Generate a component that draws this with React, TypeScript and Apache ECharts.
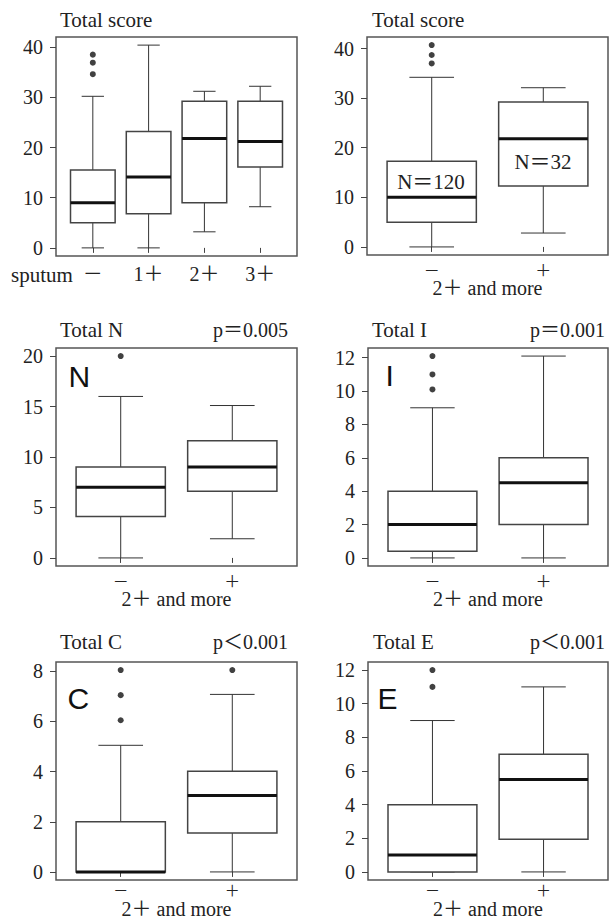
import React, { useEffect, useRef } from 'react';
import * as echarts from 'echarts';

// ---------- data ----------
const sputumCategories = ['－', '1＋', '2＋', '3＋'];
const groupCategories = ['－', '＋'];

// [lower whisker, Q1, median, Q3, upper whisker]
const scoreBySputumStats = [
  [0, 5.0, 9.0, 15.5, 30.2],
  [0, 6.8, 14.1, 23.2, 40.4],
  [3.2, 9.0, 21.8, 29.2, 31.2],
  [8.2, 16.1, 21.2, 29.2, 32.2],
];
const scoreBySputumOutliers = [[34.6, 36.9, 38.5], [], [], []];

const scoreStats = [
  [0, 5.0, 10.0, 17.3, 34.2],
  [2.8, 12.3, 21.8, 29.2, 32.1],
];
const scoreOutliers = [[37.0, 38.7, 40.7], []];

const nStats = [
  [0, 4.1, 7.0, 9.0, 16.0],
  [1.9, 6.6, 9.0, 11.6, 15.1],
];
const nOutliers = [[20], []];

const iStats = [
  [0, 0.4, 2.0, 4.0, 9.0],
  [0, 2.0, 4.5, 6.0, 12.1],
];
const iOutliers = [[10.1, 11.0, 12.1], []];

const cStats = [
  [0, 0, 0, 2.0, 5.05],
  [0, 1.55, 3.05, 4.02, 7.08],
];
const cOutliers = [[6.05, 7.05, 8.05], [8.05]];

const eStats = [
  [0, 0, 1.0, 4.0, 9.0],
  [0, 1.95, 5.5, 7.0, 11.0],
];
const eOutliers = [[11.0, 12.0], []];

const scoreTicks = [0, 10, 20, 30, 40];
const nTicks = [0, 5, 10, 15, 20];
const iTicks = [0, 2, 4, 6, 8, 10, 12];
const cTicks = [0, 2, 4, 6, 8];
const eTicks = [0, 2, 4, 6, 8, 10, 12];

const groupAxisName = '2＋ and more';

// ---------- layout / style ----------
const SERIF = "'Liberation Serif', 'Noto Sans CJK JP', serif";
const SANS = "'Liberation Sans', Arial, sans-serif";
const TEXT = '#222';

const panels = [
  { cats: sputumCategories, stats: scoreBySputumStats, outliers: scoreBySputumOutliers, ticks: scoreTicks,
    grid: { left: 56, top: 37, width: 241, height: 219 }, axisName: '', catSize: 20, catMargin: 8, nameGap: 25 },
  { cats: groupCategories, stats: scoreStats, outliers: scoreOutliers, ticks: scoreTicks,
    grid: { left: 367, top: 37, width: 241, height: 218 }, axisName: groupAxisName, catSize: 16, catMargin: 7, nameGap: 25 },
  { cats: groupCategories, stats: nStats, outliers: nOutliers, ticks: nTicks,
    grid: { left: 56, top: 348, width: 241, height: 218 }, axisName: groupAxisName, catSize: 16, catMargin: 7, nameGap: 25 },
  { cats: groupCategories, stats: iStats, outliers: iOutliers, ticks: iTicks,
    grid: { left: 368, top: 348, width: 240, height: 218 }, axisName: groupAxisName, catSize: 16, catMargin: 7, nameGap: 25 },
  { cats: groupCategories, stats: cStats, outliers: cOutliers, ticks: cTicks,
    grid: { left: 56, top: 662, width: 241, height: 218 }, axisName: groupAxisName, catSize: 15, catMargin: 3, nameGap: 21 },
  { cats: groupCategories, stats: eStats, outliers: eOutliers, ticks: eTicks,
    grid: { left: 368, top: 662, width: 240, height: 218 }, axisName: groupAxisName, catSize: 15, catMargin: 3, nameGap: 21 },
];

function text(str: string, x: number, y: number, align: string, size = 20, family = SERIF, color = TEXT) {
  return {
    type: 'text',
    x,
    y,
    z: 100,
    zlevel: 0,
    silent: true,
    style: {
      text: str,
      font: `${size}px ${family}`,
      fontSize: size,
      fontFamily: family,
      fill: color,
      align,
      verticalAlign: 'middle',
      textAlign: align,
      textVerticalAlign: 'middle',
    },
  };
}

export default function App() {
  const ref = useRef<HTMLDivElement>(null);

  useEffect(() => {
    if (!ref.current) return;
    const chart = echarts.init(ref.current, undefined, { renderer: 'svg' });

    const grids: any[] = [];
    const xAxes: any[] = [];
    const yAxes: any[] = [];
    const series: any[] = [];

    panels.forEach((p, i) => {
      const n = p.cats.length;
      const all: number[] = [];
      p.stats.forEach((s) => all.push(...s));
      p.outliers.forEach((o) => all.push(...o));
      const dMin = Math.min(...all);
      const dMax = Math.max(...all);
      const pad = (dMax - dMin) * 0.04;

      grids.push({
        ...p.grid,
        show: true,
        borderColor: '#555',
        borderWidth: 1.5,
        backgroundColor: 'transparent',
        containLabel: false,
        outerBoundsMode: 'none',
      });

      const catVals = p.cats.map((_, k) => k + 1);
      xAxes.push({
        gridIndex: i,
        type: 'value',
        min: 0.5 - 0.04 * n,
        max: n + 0.5 + 0.04 * n,
        axisLine: { show: false },
        splitLine: { show: false },
        axisTick: { show: true, customValues: catVals, length: 5, lineStyle: { color: '#444', width: 1 } },
        axisLabel: {
          show: true,
          customValues: catVals,
          formatter: (v: number) => p.cats[Math.round(v) - 1] ?? '',
          margin: p.catMargin,
          fontFamily: SERIF,
          fontSize: p.catSize,
          lineHeight: p.catSize,
          color: TEXT,
          hideOverlap: false,
        },
        name: p.axisName,
        nameLocation: 'middle',
        nameGap: p.nameGap,
        nameMoveOverlap: false,
        nameTextStyle: { fontFamily: SERIF, fontSize: 20, lineHeight: 16, color: TEXT },
      });

      yAxes.push({
        gridIndex: i,
        type: 'value',
        min: dMin - pad,
        max: dMax + pad,
        axisLine: { show: false },
        splitLine: { show: false },
        axisTick: { show: true, customValues: p.ticks, length: 6, lineStyle: { color: '#444', width: 1 } },
        axisLabel: {
          show: true,
          customValues: p.ticks,
          formatter: (v: number) => String(v),
          margin: 13,
          fontFamily: SERIF,
          fontSize: 20,
          color: TEXT,
        },
      });

      series.push({
        type: 'custom',
        xAxisIndex: i,
        yAxisIndex: i,
        dimensions: ['x', 'lo', 'q1', 'med', 'q3', 'hi'],
        encode: { x: 'x', y: ['lo', 'q1', 'med', 'q3', 'hi'] },
        data: p.stats.map((s, k) => [k + 1, ...s]),
        renderItem: (params: any, api: any) => {
          const x = api.value(0);
          const pLo = api.coord([x, api.value(1)]);
          const pQ1 = api.coord([x, api.value(2)]);
          const pMed = api.coord([x, api.value(3)]);
          const pQ3 = api.coord([x, api.value(4)]);
          const pHi = api.coord([x, api.value(5)]);
          const bw = api.size([0.8, 0])[0];
          const cw = bw / 2;
          const cx = pLo[0];
          const wStyle = { stroke: '#333', lineWidth: 1 };
          return {
            type: 'group',
            children: [
              { type: 'line', shape: { x1: cx, y1: pLo[1], x2: cx, y2: pQ1[1] }, style: wStyle },
              { type: 'line', shape: { x1: cx, y1: pQ3[1], x2: cx, y2: pHi[1] }, style: wStyle },
              { type: 'line', shape: { x1: cx - cw / 2, y1: pLo[1], x2: cx + cw / 2, y2: pLo[1] }, style: wStyle },
              { type: 'line', shape: { x1: cx - cw / 2, y1: pHi[1], x2: cx + cw / 2, y2: pHi[1] }, style: wStyle },
              {
                type: 'rect',
                shape: { x: cx - bw / 2, y: pQ3[1], width: bw, height: pQ1[1] - pQ3[1] },
                style: { fill: '#fff', stroke: '#444', lineWidth: 1.5 },
              },
              {
                type: 'line',
                shape: { x1: cx - bw / 2, y1: pMed[1], x2: cx + bw / 2, y2: pMed[1] },
                style: { stroke: '#111', lineWidth: 3 },
              },
            ],
          };
        },
        z: 2,
      });

      const pts: number[][] = [];
      p.outliers.forEach((o, k) => o.forEach((v) => pts.push([k + 1, v])));
      series.push({
        type: 'scatter',
        xAxisIndex: i,
        yAxisIndex: i,
        data: pts,
        symbol: 'circle',
        symbolSize: 6,
        itemStyle: { color: '#111' },
        z: 3,
      });
    });

    const graphics: any[] = [
      text('Total score', 60, 20, 'left', 21),
      text('sputum', 11, 275, 'left', 21),
      text('Total score', 372, 20, 'left', 21),
      text('N＝120', 431, 182, 'center', 21),
      text('N＝32', 543, 162, 'center', 21),
      text('Total N', 60, 330, 'left', 21),
      text('p＝0.005', 288, 330, 'right'),
      text('Total I', 372, 330, 'left', 21),
      text('p＝0.001', 605, 330, 'right'),
      text('Total C', 60, 642, 'left', 21),
      text('p＜0.001', 288, 642, 'right'),
      text('Total E', 373, 642, 'left', 21),
      text('p＜0.001', 605, 642, 'right'),
      text('N', 68.5, 376, 'left', 30, SANS, '#111'),
      text('I', 385.5, 375, 'left', 30, SANS, '#111'),
      text('C', 67.5, 698, 'left', 30, SANS, '#111'),
      text('E', 377.5, 698.5, 'left', 30, SANS, '#111'),
    ];

    chart.setOption({
      animation: false,
      backgroundColor: '#fff',
      tooltip: { show: false },
      grid: grids,
      xAxis: xAxes,
      yAxis: yAxes,
      series,
      graphic: { elements: graphics },
    });

    return () => chart.dispose();
  }, []);

  return (
    <div
      ref={ref}
      style={{ position: 'absolute', left: 0, top: 0, width: 609, height: 922, background: '#fff' }}
    />
  );
}
